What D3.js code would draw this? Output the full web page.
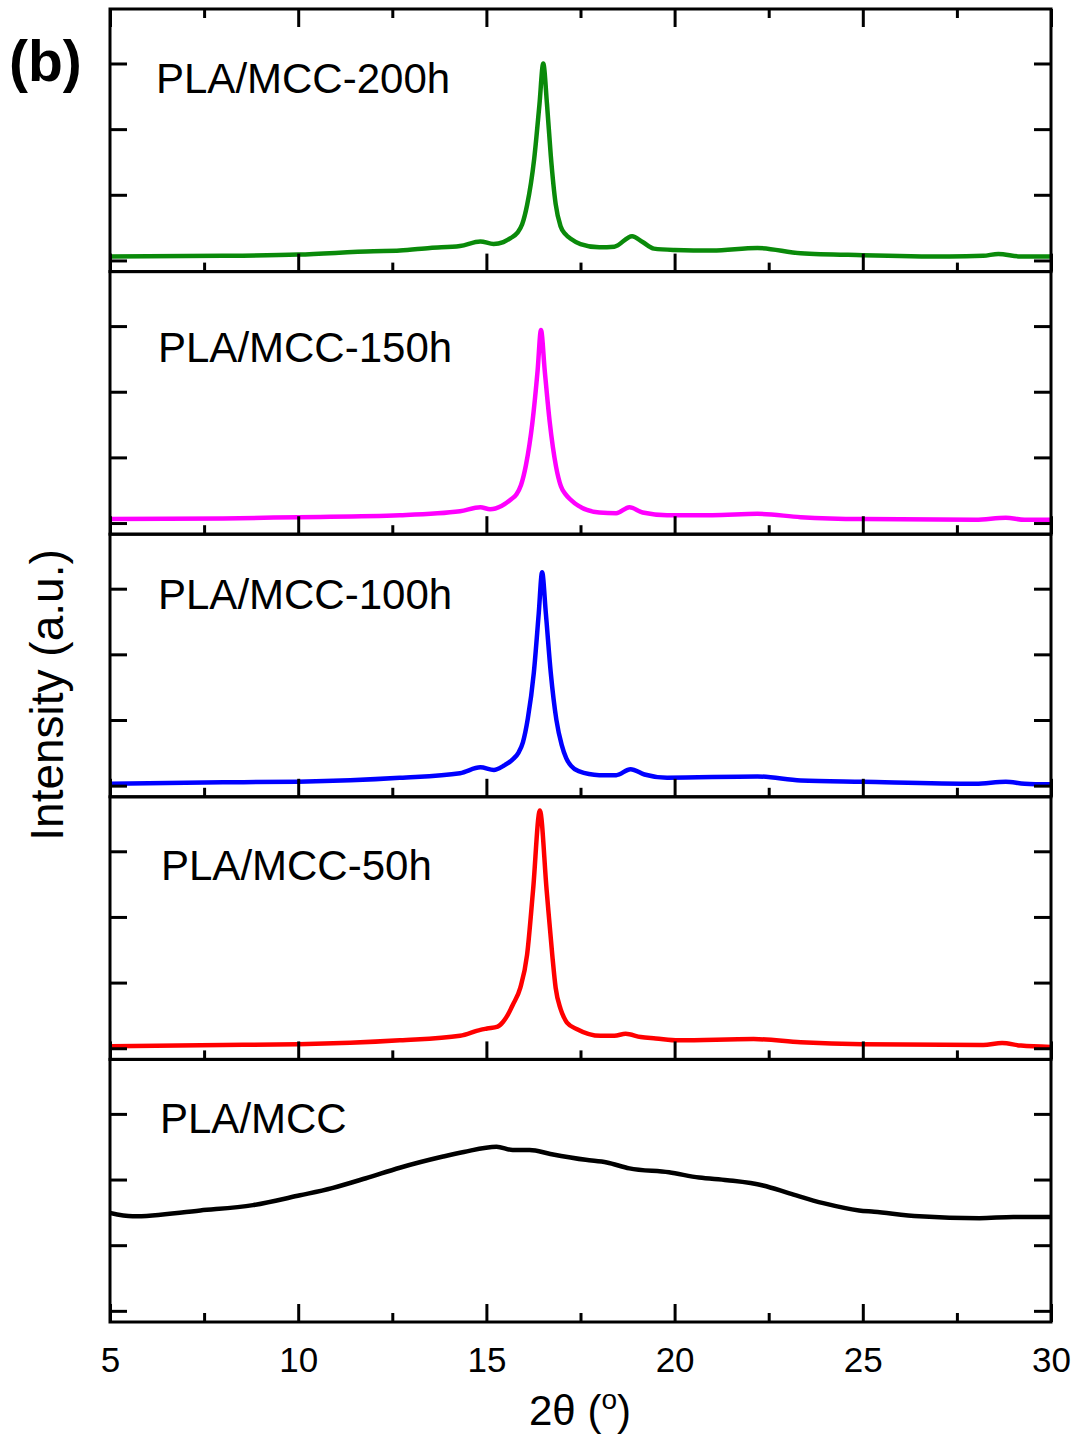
<!doctype html>
<html lang="en">
<head>
    <meta charset="utf-8">
    <title>XRD PLA/MCC</title>
    <script src="https://d3js.org/d3.v7.min.js"></script>
    <style>
        body { margin: 0; background: #fff; }
        text { font-family: Arial, "Liberation Sans", sans-serif; fill: #000; }
    </style>
</head>
<body>
<script>
    // Tick values
    const xMajor = [5, 10, 15, 20, 25, 30];
    const xMinor = [7.5, 12.5, 17.5, 22.5, 27.5];
    const yTicks = [0, 1, 2, 3];

    // Sample names, top panel first
    const sampleNames = ["PLA/MCC-200h", "PLA/MCC-150h", "PLA/MCC-100h", "PLA/MCC-50h", "PLA/MCC"];

    // [2theta, intensity (a.u., tick units)]
    const pla200h = [
        [5, 0.06], [8, 0.07], [10, 0.09], [12, 0.14], [12.7, 0.15], [13.5, 0.19], [14.3, 0.22],
        [14.84, 0.29], [15.19, 0.25], [15.45, 0.28], [15.64, 0.34], [15.82, 0.42], [15.95, 0.55],
        [16.08, 0.84], [16.27, 1.55], [16.41, 2.38], [16.51, 3.0], [16.61, 2.38], [16.71, 1.6],
        [16.84, 0.86], [16.97, 0.52], [17.1, 0.4], [17.24, 0.33], [17.5, 0.25], [18.0, 0.2],
        [18.4, 0.21], [18.87, 0.37], [19.15, 0.28], [19.45, 0.18], [20, 0.16], [21, 0.15],
        [22.2, 0.19], [23.35, 0.11], [25, 0.08], [27.3, 0.06], [28.2, 0.07], [28.6, 0.1],
        [29.2, 0.06], [30, 0.06]
    ];
    const pla150h = [
        [5, 0.06], [8, 0.07], [10, 0.09], [12.7, 0.12], [14.3, 0.18], [14.84, 0.24], [15.1, 0.21],
        [15.4, 0.26], [15.65, 0.36], [15.8, 0.44], [15.92, 0.58], [16.05, 0.88], [16.22, 1.52],
        [16.36, 2.32], [16.45, 2.94], [16.55, 2.32], [16.68, 1.55], [16.85, 0.86], [16.98, 0.56],
        [17.1, 0.44], [17.25, 0.35], [17.45, 0.26], [18.0, 0.16], [18.45, 0.15], [18.8, 0.24],
        [19.15, 0.16], [19.8, 0.12], [21, 0.12], [22.2, 0.14], [23.35, 0.09], [25, 0.06],
        [28, 0.05], [28.8, 0.08], [29.3, 0.05], [30, 0.05]
    ];
    const pla100h = [
        [5, 0.03], [8, 0.05], [10, 0.06], [12.7, 0.12], [14.3, 0.19], [14.84, 0.28], [15.2, 0.24],
        [15.45, 0.3], [15.7, 0.4], [15.85, 0.5], [15.97, 0.66], [16.1, 1.02], [16.26, 1.72],
        [16.39, 2.62], [16.48, 3.25], [16.58, 2.62], [16.71, 1.72], [16.86, 1.0], [17.0, 0.62],
        [17.12, 0.42], [17.25, 0.3], [17.45, 0.22], [18.0, 0.16], [18.45, 0.16], [18.83, 0.25],
        [19.2, 0.17], [19.8, 0.12], [22.2, 0.14], [23.35, 0.08], [25, 0.06], [28, 0.03],
        [28.8, 0.06], [29.3, 0.03], [30, 0.02]
    ];
    const pla50h = [
        [5, 0.03], [8, 0.05], [10, 0.06], [12.7, 0.12], [14.3, 0.19], [14.84, 0.28], [15.02, 0.3],
        [15.3, 0.33], [15.44, 0.4], [15.56, 0.5], [15.7, 0.66], [15.9, 0.92], [16.08, 1.42],
        [16.24, 2.41], [16.42, 3.62], [16.6, 2.41], [16.75, 1.42], [16.84, 0.92], [16.97, 0.6],
        [17.06, 0.47], [17.14, 0.39], [17.41, 0.29], [18.03, 0.19], [18.4, 0.19], [18.7, 0.22],
        [19.1, 0.17], [19.5, 0.15], [20.1, 0.12], [22.1, 0.14], [23.35, 0.09], [25, 0.06],
        [28.2, 0.05], [28.7, 0.08], [29.2, 0.04], [30, 0.02]
    ];
    const plaMcc = [
        [5, 1.49], [5.6, 1.44], [7.4, 1.53], [8.8, 1.61], [10.05, 1.76], [10.9, 1.87], [11.8, 2.02],
        [12.7, 2.18], [13.85, 2.35], [14.4, 2.42], [15.27, 2.5], [15.7, 2.45], [16.15, 2.45],
        [16.7, 2.39], [17.64, 2.3], [18.2, 2.26], [18.8, 2.17], [19.85, 2.11], [20.65, 2.03],
        [21.4, 1.99], [22.35, 1.91], [23.05, 1.79], [23.95, 1.64], [24.9, 1.53], [25.3, 1.51],
        [26.5, 1.44], [28.1, 1.41], [29.0, 1.43], [30, 1.43]
    ];
    const seriesData = [pla200h, pla150h, pla100h, pla50h, plaMcc];

    // Styles / layout
    const colors = ["#0a8a0a", "#ff00ff", "#0000ff", "#ff0000", "#000000"];
    const labelShift = [[46, 84], [48, 90], [48, 75], [51, 83], [50, 74]];

    const W = 1077, H = 1438;
    const plotLeft = 110, plotRight = 1051, plotTop = 9, plotBottom = 1322;
    const panelH = (plotBottom - plotTop) / 5;

    const svg = d3.select("body").append("svg")
        .attr("width", W).attr("height", H);

    const x = d3.scaleLinear().domain([5, 30]).range([plotLeft, plotRight]);

    seriesData.forEach(function(data, i) {
        const pTop = plotTop + i * panelH;
        const y = d3.scaleLinear().domain([-0.17, 3.83]).range([pTop + panelH, pTop]);

        // clip
        svg.append("clipPath").attr("id", "clip" + i)
            .append("rect")
            .attr("x", plotLeft).attr("y", pTop)
            .attr("width", plotRight - plotLeft).attr("height", panelH);

        // curve
        svg.append("path")
            .datum(data)
            .attr("clip-path", "url(#clip" + i + ")")
            .attr("fill", "none")
            .attr("stroke", colors[i])
            .attr("stroke-width", 4.5)
            .attr("stroke-linejoin", "round")
            .attr("d", d3.line()
                .x(function(d) { return x(d[0]); })
                .y(function(d) { return y(d[1]); })
                .curve(d3.curveMonotoneX));

        // left & right y ticks
        const yl = svg.append("g").attr("transform", "translate(" + plotLeft + ",0)")
            .call(d3.axisLeft(y).tickValues(yTicks).tickSize(-17).tickFormat(""));
        const yr = svg.append("g").attr("transform", "translate(" + plotRight + ",0)")
            .call(d3.axisRight(y).tickValues(yTicks).tickSize(-17).tickFormat(""));

        // bottom x ticks (inward)
        const xb = svg.append("g").attr("transform", "translate(0," + (pTop + panelH) + ")")
            .call(d3.axisBottom(x).tickValues(xMajor).tickSize(-18).tickPadding(25)
                .tickFormat(i === 4 ? d3.format("d") : ""));
        const xbm = svg.append("g").attr("transform", "translate(0," + (pTop + panelH) + ")")
            .call(d3.axisBottom(x).tickValues(xMinor).tickSize(-9).tickFormat(""));

        [yl, yr, xb, xbm].forEach(function(g) {
            g.select(".domain").remove();
            g.selectAll(".tick line").attr("stroke", "#000").attr("stroke-width", 3);
        });
        xb.selectAll("text").style("font-size", "35px")
            .style("font-family", "Arial, 'Liberation Sans', sans-serif").attr("fill", "#000");

        if (i === 0) {
            const xt = svg.append("g").attr("transform", "translate(0," + pTop + ")")
                .call(d3.axisTop(x).tickValues(xMajor).tickSize(-18).tickFormat(""));
            const xtm = svg.append("g").attr("transform", "translate(0," + pTop + ")")
                .call(d3.axisTop(x).tickValues(xMinor).tickSize(-9).tickFormat(""));
            [xt, xtm].forEach(function(g) {
                g.select(".domain").remove();
                g.selectAll(".tick line").attr("stroke", "#000").attr("stroke-width", 3);
            });
        }

        // frame
        svg.append("rect")
            .attr("x", plotLeft).attr("y", pTop)
            .attr("width", plotRight - plotLeft).attr("height", panelH)
            .attr("fill", "none").attr("stroke", "#000").attr("stroke-width", 3);

        // sample label
        svg.append("text")
            .attr("x", plotLeft + labelShift[i][0])
            .attr("y", pTop + labelShift[i][1])
            .style("font-size", "42px")
            .text(sampleNames[i]);
    });

    // axis titles
    const xTitle = svg.append("text")
        .attr("x", 580).attr("y", 1425)
        .attr("text-anchor", "middle")
        .style("font-size", "42px");
    xTitle.append("tspan").text("2\u03B8 (");
    xTitle.append("tspan").attr("dy", -16).style("font-size", "28px").text("o");
    xTitle.append("tspan").attr("dy", 16).text(")");

    svg.append("text")
        .attr("transform", "translate(63,695) rotate(-90)")
        .attr("text-anchor", "middle")
        .style("font-size", "46px")
        .text("Intensity (a.u.)");

    svg.append("text")
        .attr("x", 9).attr("y", 81)
        .style("font-size", "57px")
        .style("font-weight", "bold")
        .text("(b)");
</script>
</body>
</html>
